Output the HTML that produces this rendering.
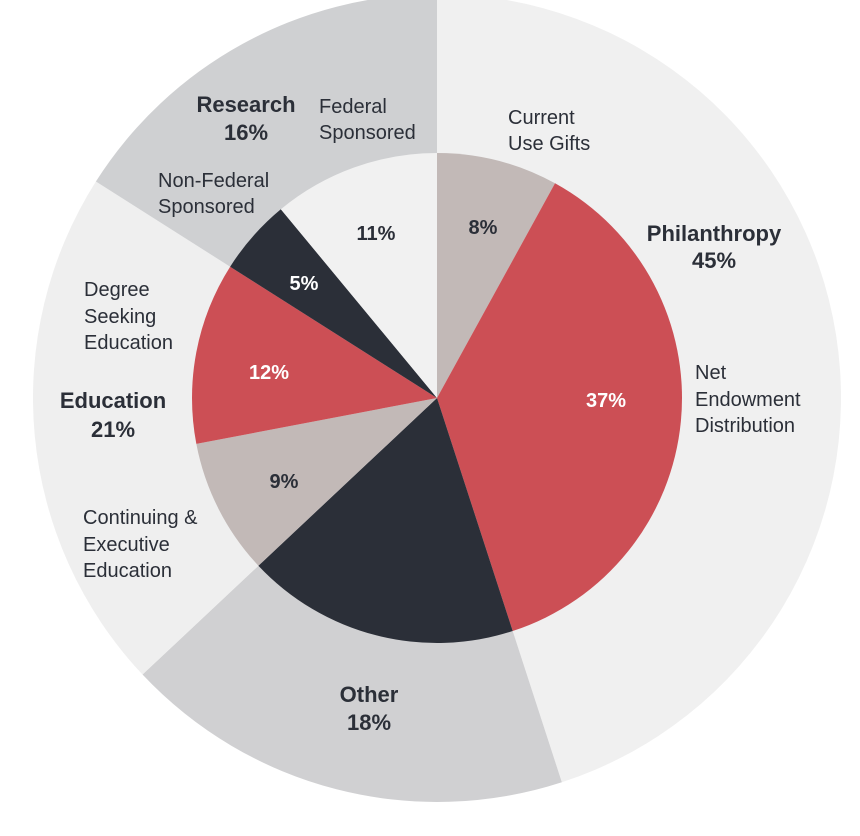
<!DOCTYPE html>
<html><head><meta charset="utf-8"><style>
html,body{margin:0;padding:0;background:#fff;width:860px;height:836px;overflow:hidden}
svg{display:block;font-family:"Liberation Sans",sans-serif}
</style></head><body>
<svg id="chart" width="860" height="836" viewBox="0 0 860 836">
<g id="outer"></g>
<g id="inner"></g>
<g id="labels" fill="#2b2f38" font-size="20">
<text x="714" y="241" text-anchor="middle" font-weight="bold" font-size="22">Philanthropy</text>
<text x="714" y="268" text-anchor="middle" font-weight="bold" font-size="22">45%</text>
<text x="246" y="112" text-anchor="middle" font-weight="bold" font-size="22">Research</text>
<text x="246" y="140" text-anchor="middle" font-weight="bold" font-size="22">16%</text>
<text x="113" y="408" text-anchor="middle" font-weight="bold" font-size="22">Education</text>
<text x="113" y="437" text-anchor="middle" font-weight="bold" font-size="22">21%</text>
<text x="369" y="702" text-anchor="middle" font-weight="bold" font-size="22">Other</text>
<text x="369" y="730" text-anchor="middle" font-weight="bold" font-size="22">18%</text>
<text x="508" y="124">Current</text>
<text x="508" y="150">Use Gifts</text>
<text x="319" y="113">Federal</text>
<text x="319" y="139">Sponsored</text>
<text x="158" y="187">Non-Federal</text>
<text x="158" y="213">Sponsored</text>
<text x="84" y="296">Degree</text>
<text x="84" y="323">Seeking</text>
<text x="84" y="349">Education</text>
<text x="83" y="524">Continuing &amp;</text>
<text x="83" y="551">Executive</text>
<text x="83" y="577">Education</text>
<text x="695" y="379">Net</text>
<text x="695" y="406">Endowment</text>
<text x="695" y="432">Distribution</text>
</g>
<g id="pcts" font-size="20" font-weight="bold" text-anchor="middle"></g>
</svg>
<script>
const outerCats=["Philanthropy","Other","Education","Research"];
const outerVals=[45,18,21,16];
const outerColors=["#f0f0f0","#d0d0d2","#efefef","#cfd0d2"];
const innerCats=["Current Use Gifts","Net Endowment Distribution","Other","Continuing & Executive Education","Degree Seeking Education","Non-Federal Sponsored","Federal Sponsored"];
const innerVals=[8,37,18,9,12,5,11];
const innerColors=["#c2b9b7","#cc4f55","#2b2f38","#c2b9b7","#cc4f55","#2b2f38","#f1f1f1"];
const innerTextColors=["#2b2f38","#fff","#2b2f38","#2b2f38","#fff","#fff","#2b2f38"];
const innerLabelPos=[[483,227],[606,400],[0,0],[284,481],[269,372],[304,283],[376,233]];
const CX=437,CY=398,RO=404,RI=245;
const NS="http://www.w3.org/2000/svg";
function pt(r,f){const a=f*2*Math.PI;return [CX+r*Math.sin(a),CY-r*Math.cos(a)];}
function arc(r,f0,f1){const p0=pt(r,f0),p1=pt(r,f1);const l=(f1-f0)>0.5?1:0;
return `M${CX},${CY}L${p0[0]},${p0[1]}A${r},${r} 0 ${l} 1 ${p1[0]},${p1[1]}Z`;}
function draw(g,vals,cats,colors,r,prefix){const tot=vals.reduce((a,b)=>a+b,0);let c=0;
vals.forEach((v,i)=>{const p=document.createElementNS(NS,"path");
p.setAttribute("d",arc(r,c/tot,(c+v)/tot));p.setAttribute("fill",colors[i]);


g.appendChild(p);c+=v;});}
draw(document.getElementById("outer"),outerVals,outerCats,outerColors,RO,"outer-slice");
draw(document.getElementById("inner"),innerVals,innerCats,innerColors,RI,"inner-slice");
const pg=document.getElementById("pcts");
innerVals.forEach((v,i)=>{if(i===2)return;const t=document.createElementNS(NS,"text");
t.setAttribute("x",innerLabelPos[i][0]);t.setAttribute("y",innerLabelPos[i][1]+7);
t.setAttribute("fill",innerTextColors[i]);t.textContent=v+"%";


pg.appendChild(t);});
</script>
</body></html>
